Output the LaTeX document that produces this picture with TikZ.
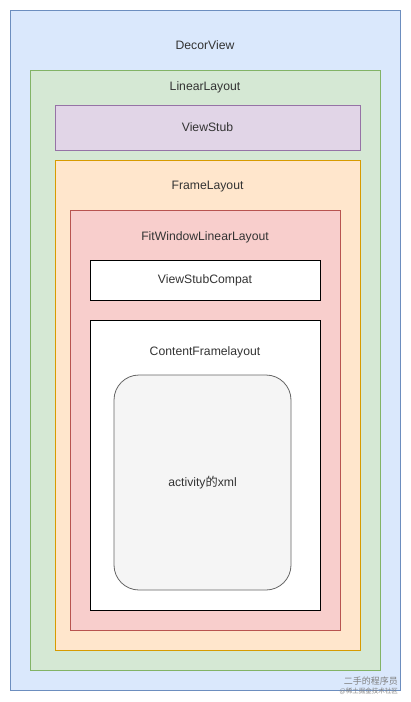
\documentclass[tikz,border=0pt]{standalone}
\usepackage{fontspec}
\setmainfont{Liberation Sans}
\newfontfamily\cjk{Noto Sans CJK SC}
\usepackage{xcolor}
\definecolor{decorFill}{HTML}{DAE8FC}
\definecolor{decorLine}{HTML}{6C8EBF}
\definecolor{linearFill}{HTML}{D5E8D4}
\definecolor{linearLine}{HTML}{82B366}
\definecolor{stubFill}{HTML}{E1D5E7}
\definecolor{stubLine}{HTML}{9673A6}
\definecolor{frameFill}{HTML}{FFE6CC}
\definecolor{frameLine}{HTML}{D79B00}
\definecolor{fitFill}{HTML}{F8CECC}
\definecolor{fitLine}{HTML}{B85450}
\definecolor{xmlFill}{HTML}{F5F5F5}
\definecolor{xmlLine}{HTML}{666666}
\definecolor{labelText}{HTML}{333333}
\usetikzlibrary{positioning}

\begin{document}
\begin{tikzpicture}[
    x=1pt, y=-1pt,
    layoutBox/.style={
        rectangle, draw, line width=0.8pt,
        inner sep=0pt, outer sep=0pt
    },
    titleNode/.style={
        font=\fontsize{12.2}{14}\selectfont, text=labelText, inner sep=0pt
    },
    markNode/.style={
        inner sep=0pt, anchor=east, text=gray
    }
]
    \useasboundingbox (0,0) rectangle (411,702);

    % Outer window
    \node[layoutBox, fill=decorFill, draw=decorLine,
          minimum width=390pt, minimum height=680pt] (decor) at (205,350) {};
    \node[titleNode, below=30pt of decor.north] (decorTitle) {DecorView};

    % LinearLayout
    \node[layoutBox, fill=linearFill, draw=linearLine,
          minimum width=350pt, minimum height=600pt] (linear) at (205,370) {};
    \node[titleNode, below=11pt of linear.north] (linearTitle) {LinearLayout};

    \node[layoutBox, fill=stubFill, draw=stubLine,
          minimum width=305pt, minimum height=45pt] (stub) at (207.5,127.5) {};
    \node[titleNode] (stubTitle) at (stub.center) {ViewStub};

    % FrameLayout
    \node[layoutBox, fill=frameFill, draw=frameLine,
          minimum width=305pt, minimum height=490pt] (frame) at (207.5,405) {};
    \node[titleNode, below=21pt of frame.north] (frameTitle) {FrameLayout};

    % FitWindowLinearLayout
    \node[layoutBox, fill=fitFill, draw=fitLine,
          minimum width=270pt, minimum height=420pt] (fit) at (205,420) {};
    \node[titleNode, below=21pt of fit.north] (fitTitle) {FitWindowLinearLayout};

    \node[layoutBox, fill=white, draw=black,
          minimum width=230pt, minimum height=40pt] (compat) at (205,280) {};
    \node[titleNode] (compatTitle) at (compat.center) {ViewStubCompat};

    % ContentFramelayout
    \node[layoutBox, fill=white, draw=black,
          minimum width=230pt, minimum height=290pt] (content) at (205,465) {};
    \node[titleNode, below=26pt of content.north] (contentTitle) {ContentFramelayout};

    \node[layoutBox, fill=xmlFill, draw=xmlLine, rounded corners=25pt,
          minimum width=177pt, minimum height=215pt] (xml) at (202.5,482.5) {};
    \node[titleNode] (xmlTitle) at (xml.center) {activity{\cjk 的}xml};

    % watermark
    \node[markNode, font=\cjk\fontsize{9}{10}\selectfont] (markName) at (398,681) {二手的程序员};
    \node[markNode, font=\cjk\fontsize{6.5}{7}\selectfont, below=2pt of markName.south east, anchor=north east] (markSite) {@稀土掘金技术社区};

\end{tikzpicture}
\end{document}
